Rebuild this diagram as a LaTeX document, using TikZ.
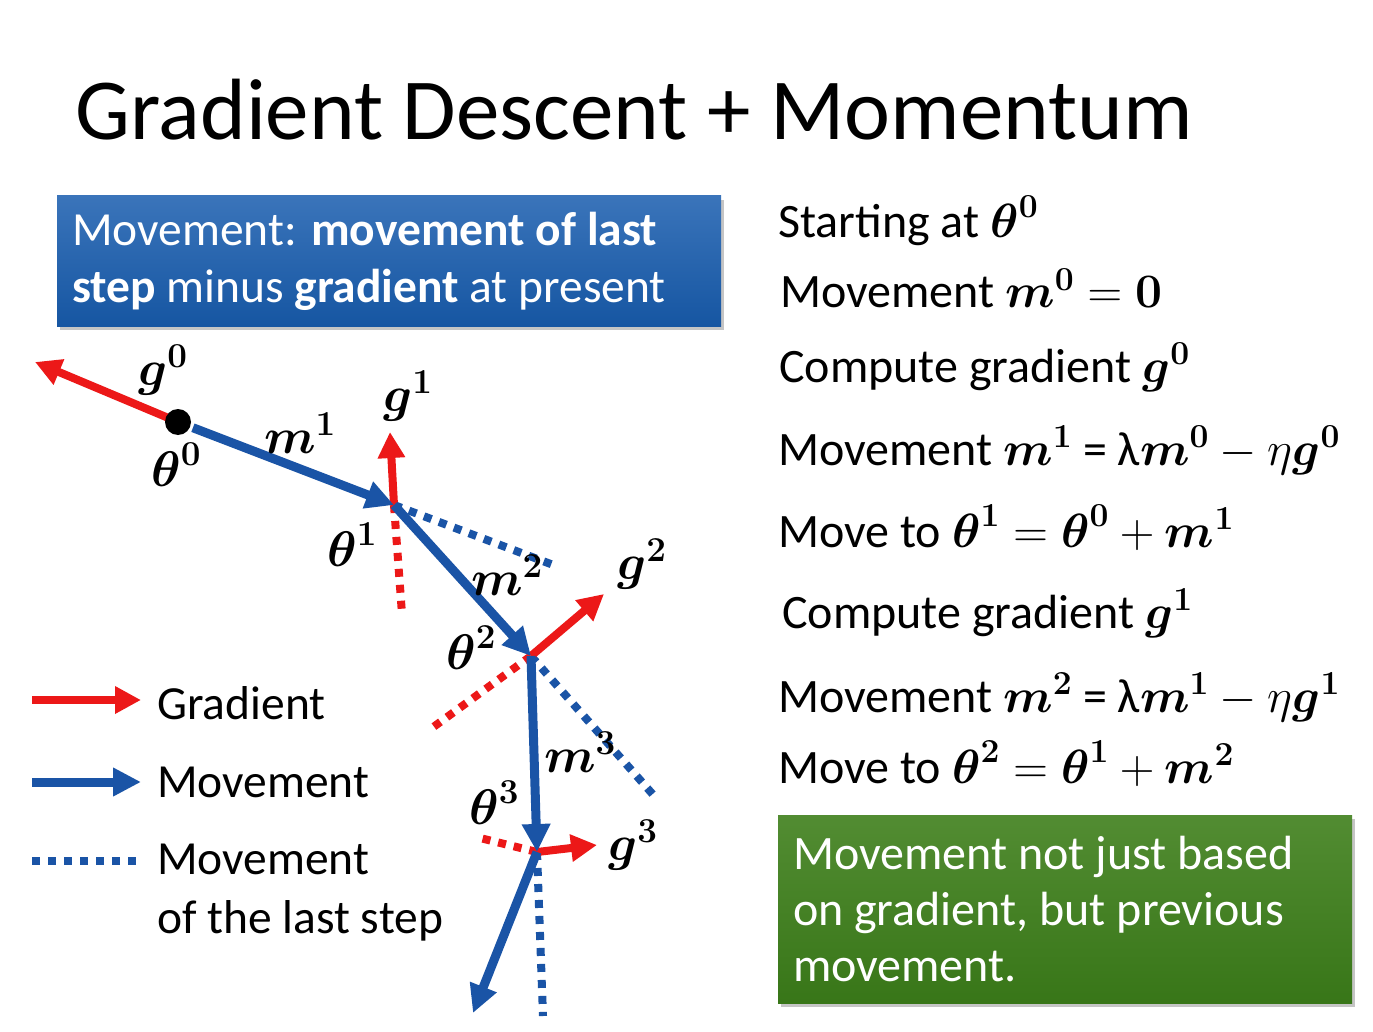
\RequirePackage{fix-cm}
\documentclass[tikz,border=0pt]{standalone}
\usepackage{amsmath}
\usepackage[no-math]{fontspec}
\setmainfont{Carlito}
\usetikzlibrary{arrows.meta,positioning,shadows}
\definecolor{gradred}{RGB}{236,24,24}
\definecolor{moveblue}{RGB}{26,84,166}
\definecolor{boxtop}{RGB}{58,116,186}
\definecolor{boxbot}{RGB}{22,86,162}
\definecolor{greentop}{RGB}{82,140,50}
\definecolor{greenbot}{RGB}{56,118,24}
\newcommand{\bv}[1]{\boldsymbol{#1}}

\begin{document}
\begin{tikzpicture}[
        x=1pt, y=-1pt,
        node distance=16pt,
        gradarrow/.style={-{Triangle[length=26pt,width=26pt]}, line width=8pt, gradred},
        movearrow/.style={-{Triangle[length=28pt,width=27pt]}, line width=9pt, moveblue},
        lastmove/.style={line width=8pt, moveblue, dash pattern=on 8pt off 8pt},
        gradback/.style={line width=8pt, gradred, dash pattern=on 8pt off 8pt},
        lbl/.style={font=\fontsize{50}{58}\selectfont, inner sep=0pt},
        rtext/.style={anchor=base west, inner sep=0pt, font=\fontsize{48}{56}\selectfont},
        legtext/.style={inner sep=0pt, align=flush left, font=\fontsize{47.5}{59}\selectfont},
        notebox/.style={rectangle, align=flush left, text=white, inner xsep=15pt,
            drop shadow={shadow xshift=3pt, shadow yshift=-4pt, opacity=.45}}
    ]
        \fill[white] (0,0) rectangle (1373,1032);
        \useasboundingbox (0,0) rectangle (1373,1032);

        \node[anchor=base west, inner sep=0pt, font=\fontsize{87}{100}\selectfont] (title) at (75,140) {Gradient Descent + Momentum};

        % boxes
        \node[notebox, top color=boxtop, bottom color=boxbot, minimum width=664pt, minimum height=130pt, text width=634pt,
            font=\fontsize{47.5}{57}\selectfont] (rule) at (389,261)
            {Movement: \textbf{movement of last}\\\textbf{step} minus \textbf{gradient} at present};
        \node[notebox, top color=greentop, bottom color=greenbot, minimum width=574pt, minimum height=188pt, text width=544pt,
            font=\fontsize{48}{56}\selectfont] (note) at (1065,909)
            {Movement not just based\\on gradient, but previous\\movement.};

        % steps
        \node[rtext] (s1) at (778,238) {Starting at $\bv\theta^{\bv 0}$};
        \node[rtext] (s2) at (780,308) {Movement $\bv m^{\bv 0} = \bv 0$};
        \node[rtext] (s3) at (779,382) {Compute gradient $\bv g^{\bv 0}$};
        \node[rtext] (s4) at (778,465) {Movement $\bv m^{\bv 1}$ = λ$\bv m^{\bv 0} - \eta\bv g^{\bv 0}$};
        \node[rtext] (s5) at (778,547) {Move to $\bv\theta^{\bv 1} = \bv\theta^{\bv 0} + \bv m^{\bv 1}$};
        \node[rtext] (s6) at (782,628) {Compute gradient $\bv g^{\bv 1}$};
        \node[rtext] (s7) at (778,712) {Movement $\bv m^{\bv 2}$ = λ$\bv m^{\bv 1} - \eta\bv g^{\bv 1}$};
        \node[rtext] (s8) at (778,783) {Move to $\bv\theta^{\bv 2} = \bv\theta^{\bv 1} + \bv m^{\bv 2}$};

        % points on the path
        \coordinate (t0) at (178,422);
        \coordinate (t1) at (394,505);
        \coordinate (t2) at (531,656);
        \coordinate (t3) at (537,852);
        \coordinate (g0e) at (35,362);
        \coordinate (g1e) at (390,432);
        \coordinate (g2e) at (604,594);
        \coordinate (g3e) at (597,845);
        \coordinate (r1) at (402,614);
        \coordinate (r2) at (432,728);
        \coordinate (r3) at (480,838);
        \coordinate (p1) at (556,566);
        \coordinate (p2) at (656,798);
        \coordinate (p3) at (543,1016);
        \coordinate (m4e) at (473,1013);

        \draw[lastmove] (t1) -- (p1);
        \draw[lastmove] (t2) -- (p2);
        \draw[lastmove] (t3) -- (p3);
        \draw[gradback] (t1) -- (r1);
        \draw[gradback] (t2) -- (r2);
        \draw[gradback] (t3) -- (r3);

        \draw[gradarrow] (t0) -- (g0e);
        \draw[gradarrow] (t1) -- (g1e);
        \draw[gradarrow] (t2) -- (g2e);
        \draw[gradarrow] (t3) -- (g3e);

        \draw[movearrow, shorten <=16pt] (t0) -- (t1);
        \draw[movearrow] (t1) -- (t2);
        \draw[movearrow] (t2) -- (t3);
        \draw[movearrow] (t3) -- (m4e);
        \fill (t0) circle (13pt);

        \node[lbl] (lg0) at (163,370) {$\bv g^{\bv 0}$};
        \node[lbl] (lm1) at (300,433) {$\bv m^{\bv 1}$};
        \node[lbl] (lt0) at (176,465) {$\bv\theta^{\bv 0}$};
        \node[lbl] (lg1) at (408,396) {$\bv g^{\bv 1}$};
        \node[lbl] (lt1) at (352,545) {$\bv\theta^{\bv 1}$};
        \node[lbl] (lm2) at (507,575) {$\bv m^{\bv 2}$};
        \node[lbl] (lg2) at (642,564) {$\bv g^{\bv 2}$};
        \node[lbl] (lt2) at (471,648) {$\bv\theta^{\bv 2}$};
        \node[lbl] (lm3) at (580,752) {$\bv m^{\bv 3}$};
        \node[lbl] (lt3) at (494,803) {$\bv\theta^{\bv 3}$};
        \node[lbl] (lg3) at (633,845) {$\bv g^{\bv 3}$};

        % legend
        \coordinate (lg1s) at (32,700);
        \coordinate (lg1e) at (141,700);
        \coordinate (lg2s) at (32,782);
        \coordinate (lg2e) at (141,782);
        \coordinate (lg3s) at (32,861);
        \coordinate (lg3e) at (141,861);
        \draw[gradarrow] (lg1s) -- (lg1e);
        \draw[movearrow] (lg2s) -- (lg2e);
        \draw[lastmove] (lg3s) -- (lg3e);
        \node[legtext, anchor=base west] (leg1) at (157,719) {Gradient};
        \node[legtext, anchor=base west] (leg2) at (157,797) {Movement};
        \node[legtext, anchor=base west] (leg3) at (157,933) {Movement\\of the last step};
    \end{tikzpicture}
\end{document}
